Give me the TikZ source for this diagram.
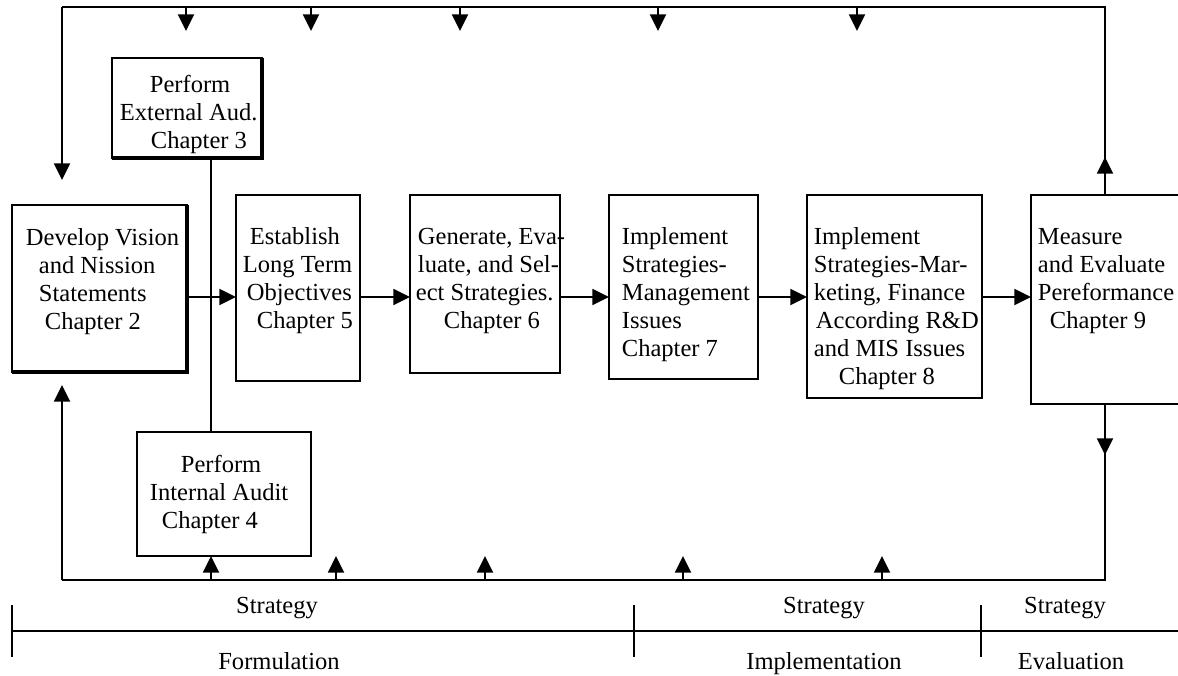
\documentclass[tikz,border=0pt]{standalone}
\usepackage{fontspec}
\setmainfont{Liberation Serif}
\usetikzlibrary{arrows.meta}
\begin{document}
\begin{tikzpicture}[x=0.75pt,y=-0.75pt,line width=1.4pt,
  arr/.style={-{Triangle[length=12.5pt,width=12pt]}},
  boxst/.style={draw,rectangle,inner sep=0pt,outer sep=0pt,anchor=north west},
  txt/.style={inner sep=0pt,anchor=north west,align=left,font=\fontsize{18.4}{21}\selectfont},
  lbl/.style={inner sep=0pt,anchor=base,font=\fontsize{18.4}{21}\selectfont}]
\useasboundingbox (0,0) rectangle (1178,675);
% boxes
\node[boxst,minimum width=131.25pt,minimum height=125.25pt] (b2) at (12,205) {};
\node[boxst,minimum width=112.5pt,minimum height=75pt] (b3) at (112,58) {};
\node[boxst,minimum width=93pt,minimum height=139.5pt] (b5) at (236,195) {};
\node[boxst,minimum width=130.5pt,minimum height=93pt] (b4) at (137,432) {};
\node[boxst,minimum width=112.5pt,minimum height=133.5pt] (b6) at (410,195) {};
\node[boxst,minimum width=111.75pt,minimum height=138pt] (b7) at (609,195) {};
\node[boxst,minimum width=131.25pt,minimum height=152.25pt] (b8) at (807,195) {};
\node[boxst,minimum width=120pt,minimum height=156.75pt] (b9) at (1031,195) {};
% shadows
\draw[line width=2.6pt] (b2.north east) -- (b2.south east) -- (b2.south west);
\draw[line width=2.6pt] (b3.north east) -- (b3.south east) -- (b3.south west);
% texts
\node[txt] (t2) at (25,228) {Develop Vision\\\hspace*{9.75pt}and Nission\\\hspace*{9.75pt}Statements\\\hspace*{14.25pt}Chapter 2};
\node[txt] (t3) at (119,74) {\hspace*{22.5pt}Perform\\External Aud.\\\hspace*{23.25pt}Chapter 3};
\node[txt] (t5) at (242,227) {\hspace*{5.25pt}Establish\\Long Term\\\hspace*{3pt}Objectives\\\hspace*{10.5pt}Chapter 5};
\node[txt] (t4) at (149,454) {\hspace*{23.25pt}Perform\\Internal Audit\\\hspace*{9pt}Chapter 4};
\node[txt] (t6) at (415,227) {\hspace*{1.5pt}Generate, Eva-\\\hspace*{1.5pt}luate, and Sel-\\ect Strategies.\\\hspace*{21pt}Chapter 6};
\node[txt] (t7) at (621,227) {Implement\\Strategies-\\Management\\Issues\\Chapter 7};
\node[txt] (t8) at (813,227) {Implement\\Strategies-Mar-\\keting, Finance\\\hspace*{1.5pt}According R\&D\\and MIS Issues\\\hspace*{18.75pt}Chapter 8};
\node[txt] (t9) at (1037,227) {Measure\\and Evaluate\\Pereformance\\\hspace*{9pt}Chapter 9};
% coordinates
\coordinate (ay) at (0,297);
\coordinate (vx) at (211,0);
\coordinate (rx) at (1105,0);
\coordinate (tl) at (62,7);
\coordinate (tr) at (1105,7);
\coordinate (lt) at (62,180);
\coordinate (ru) at (1105,157);
\coordinate (rd) at (1105,455);
\coordinate (br) at (1105,580);
\coordinate (bl) at (62,580);
\coordinate (lb) at (62,385);
% flow arrows
\draw[arr] (b2.east |- ay) -- (b5.west |- ay);
\draw[arr] (b5.east |- ay) -- (b6.west |- ay);
\draw[arr] (b6.east |- ay) -- (b7.west |- ay);
\draw[arr] (b7.east |- ay) -- (b8.west |- ay);
\draw[arr] (b8.east |- ay) -- (b9.west |- ay);
\draw (b3.south -| vx) -- (b4.north -| vx);
% feedback loop
\draw (b9.north -| rx) -- (tr) -- (tl);
\draw[arr] (tl) -- (lt);
\draw[arr] (b9.north -| rx) -- (ru);
\draw (b9.south -| rx) -- (br) -- (bl);
\draw[arr] (b9.south -| rx) -- (rd);
\draw[arr] (bl) -- (lb);
\foreach \x in {186,311,460,658,857} {
  \coordinate (d\x) at (\x,31);
  \draw[arr] (\x,7) -- (d\x);
}
\coordinate (u211) at (211,580);
\draw[arr] (u211) -- (b4.south -| vx);
\foreach \x in {336,485,683,882} {
  \coordinate (u\x) at (\x,556);
  \draw[arr] (\x,580) -- (u\x);
}
% timeline
\coordinate (s0) at (12,631);
\coordinate (s1) at (1178,631);
\draw (s0) -- (s1);
\foreach \x in {12,634,981} {\draw (\x,605) -- (\x,657);}
\node[lbl] (st1) at (277,613) {Strategy};
\node[lbl] (st2) at (824,613) {Strategy};
\node[lbl] (st3) at (1065,613) {Strategy};
\node[lbl] (f1) at (279,669) {Formulation};
\node[lbl] (f2) at (824,669) {Implementation};
\node[lbl] (f3) at (1071,669) {Evaluation};
\end{tikzpicture}
\end{document}
